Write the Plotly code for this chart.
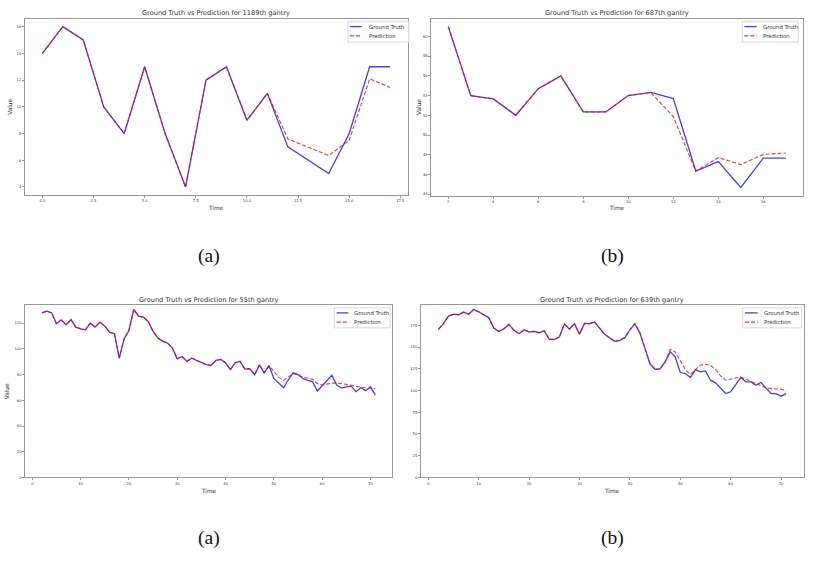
import plotly.graph_objects as go

W, H = 813, 562

# ---------------- data ----------------
tl_title = "Ground Truth vs Prediction for 1189th gantry"
tl_time = list(range(0, 18))
tl_gt = [14, 16, 15, 10, 8, 13, 8, 4, 12, 13, 9, 11, 7, 6, 5, 8, 13, 13]
tl_pred = [14, 16, 15, 10, 8, 13, 8, 4, 12, 13, 9, 11, 7.6, 7.0, 6.35, 7.5, 12.1, 11.45]

tr_title = "Ground Truth vs Prediction for 687th gantry"
tr_time = list(range(2, 18))
tr_gt = [61.0, 54.0, 53.66, 52.0, 54.7, 56.0, 52.34, 52.34, 54.0, 54.32, 53.7, 46.34, 47.3, 44.68, 47.66, 47.66]
tr_pred = [61.0, 54.0, 53.66, 52.0, 54.7, 56.0, 52.34, 52.34, 54.0, 54.32, 51.86, 46.34, 47.7, 47.0, 48.03, 48.17]

bl_title = "Ground Truth vs Prediction for 55th gantry"
bl_time = list(range(2, 72))
bl_gt = [128.0, 129.3, 128.0, 119.5, 122.6, 118.7, 122.8, 116.9, 115.6, 114.8,
         120.0, 116.9, 120.8, 117.7, 113.0, 111.7, 92.8, 107.8, 114.3, 130.6,
         125.4, 124.6, 121.3, 113.5, 108.4, 106.0, 104.5, 100.6, 92.3, 94.1,
         90.3, 92.8, 91.0, 89.2, 87.7, 87.1, 91.0, 91.8, 89.2, 83.8,
         89.2, 90.3, 84.3, 84.6, 79.9, 87.5, 81.4, 86.9, 77.0, 73.5,
         69.8, 76.0, 81.4, 80.0, 77.0, 75.5, 74.5, 67.2, 71.5, 75.5,
         79.6, 71.8, 69.5, 70.5, 71.0, 66.7, 69.8, 67.5, 70.3, 64.1]
bl_pred = [128.0, 129.3, 128.0, 119.5, 122.6, 118.7, 122.8, 116.9, 115.6, 114.8,
           120.0, 116.9, 120.8, 117.7, 113.0, 111.7, 92.8, 107.8, 114.3, 130.6,
           125.4, 124.6, 121.3, 113.5, 108.4, 106.0, 104.5, 100.6, 92.3, 94.1,
           90.3, 92.8, 91.0, 89.2, 87.7, 87.1, 91.0, 91.8, 89.2, 83.8,
           89.2, 90.3, 84.3, 84.6, 79.9, 87.5, 81.4, 86.9, 82.5, 78.0,
           75.5, 78.0, 80.7, 80.0, 78.0, 77.3, 76.3, 73.0, 71.8, 72.6,
           73.4, 73.4, 73.0, 72.4, 71.6, 70.9, 69.8, 69.6, 69.6, 69.0]

br_title = "Ground Truth vs Prediction for 639th gantry"
br_time = list(range(2, 72))
br_gt = [170.4, 177.0, 185.7, 188.0, 187.3, 190.3, 188.0, 193.4, 190.7, 187.7,
         183.8, 172.0, 168.1, 171.2, 176.2, 169.3, 165.5, 170.0, 167.4, 168.1,
         166.6, 168.9, 158.9, 158.9, 161.6, 176.6, 170.8, 177.0, 165.0, 177.3,
         177.0, 178.9, 172.0, 164.7, 160.5, 156.6, 157.8, 160.9, 170.0, 177.0,
         166.2, 148.2, 130.6, 124.5, 124.9, 132.9, 144.5, 138.7, 120.7, 119.5,
         115.0, 124.1, 121.5, 122.6, 111.9, 108.8, 102.3, 96.5, 98.5, 106.9,
         115.0, 110.0, 110.0, 106.1, 109.2, 103.1, 96.5, 96.5, 93.5, 96.5]
br_pred = [170.4, 177.0, 185.7, 188.0, 187.3, 190.3, 188.0, 193.4, 190.7, 187.7,
           183.8, 172.0, 168.1, 171.2, 176.2, 169.3, 165.5, 170.0, 167.4, 168.1,
           166.6, 168.9, 158.9, 158.9, 161.6, 176.6, 170.8, 177.0, 165.0, 177.3,
           177.0, 178.9, 172.0, 164.7, 160.5, 156.6, 157.8, 160.9, 170.0, 177.0,
           166.2, 148.2, 130.6, 124.5, 124.9, 132.9, 147.5, 144.5, 135.0, 124.0,
           118.5, 124.5, 129.5, 130.3, 129.0, 124.0, 117.0, 111.9, 113.5, 114.5,
           115.5, 113.0, 110.0, 107.2, 105.0, 103.0, 102.3, 102.0, 101.5, 99.6]

tl_xticks = [0, 2.5, 5, 7.5, 10, 12.5, 15, 17.5]
tl_xtext = ["0.0", "2.5", "5.0", "7.5", "10.0", "12.5", "15.0", "17.5"]
tl_yticks = [4, 6, 8, 10, 12, 14, 16]
tr_xticks = [2, 4, 6, 8, 10, 12, 14, 16]
tr_yticks = [44, 46, 48, 50, 52, 54, 56, 58, 60]
bl_xticks = [0, 10, 20, 30, 40, 50, 60, 70]
bl_yticks = [0, 20, 40, 60, 80, 100, 120]
br_xticks = [0, 10, 20, 30, 40, 50, 60, 70]
br_yticks = [0, 25, 50, 75, 100, 125, 150, 175]

legend_labels = ["Ground Truth", "Prediction"]
captions = ["(a)", "(b)", "(a)", "(b)"]

# ---------------- helpers ----------------
def fx(p):
    return p / W


def fy(p):
    return 1 - p / H


BLUE = "rgba(0,0,255,0.75)"
RED = "rgba(255,0,0,0.8)"
FRAME = "#9a9a9a"
TXT = "#333333"

fig = go.Figure()

panels = [
    dict(t=tl_time, gt=tl_gt, pr=tl_pred, title=tl_title, box=(25, 407.5, 18.7, 195.7),
         xr=[-0.85, 17.85], yr=[3.4, 16.6], xt=tl_xticks, xtt=tl_xtext, yt=tl_yticks,
         ylab_x=10, time_y=209, title_y=13.3, cap=(209, 257),
         leg=(348, 409, 21.7, 42.3, 350, 361.7, 366.7, 26.7, 36)),
    dict(t=tr_time, gt=tr_gt, pr=tr_pred, title=tr_title, box=(431.4, 802.7, 18.6, 196.2),
         xr=[1.25, 17.75], yr=[43.86, 61.82], xt=tr_xticks, xtt=None, yt=tr_yticks,
         ylab_x=419, time_y=209, title_y=13.3, cap=(612, 257),
         leg=(742.3, 798.3, 21.7, 42.3, 744.3, 756.7, 760.7, 26.7, 36)),
    dict(t=bl_time, gt=bl_gt, pr=bl_pred, title=bl_title, box=(25.3, 392, 305.7, 479.2),
         xr=[-1.45, 74.45], yr=[0, 134.4], xt=bl_xticks, xtt=None, yt=bl_yticks,
         ylab_x=7.3, time_y=492.3, title_y=301, cap=(209, 540),
         leg=(334.3, 390, 309, 329, 336.7, 348.3, 352.3, 314, 323.3)),
    dict(t=br_time, gt=br_gt, pr=br_pred, title=br_title, box=(421, 803.5, 305.7, 479),
         xr=[-1.45, 74.45], yr=[0, 199], xt=br_xticks, xtt=None, yt=br_yticks,
         ylab_x=None, time_y=492.3, title_y=301, cap=(612, 540),
         leg=(742.7, 801.7, 309, 329, 745, 757.7, 761.7, 314, 323.3)),
]

annotations = []
shapes = []
for i, p in enumerate(panels, start=1):
    sx = "" if i == 1 else str(i)
    x0, x1, y0, y1 = p["box"]
    fig.add_trace(go.Scatter(x=p["t"], y=p["gt"], mode="lines", name=legend_labels[0],
                             line=dict(color=BLUE, width=1.3), showlegend=False,
                             xaxis="x" + sx, yaxis="y" + sx))
    fig.add_trace(go.Scatter(x=p["t"], y=p["pr"], mode="lines", name=legend_labels[1],
                             line=dict(color=RED, width=1.1, dash="4px,2px"), showlegend=False,
                             xaxis="x" + sx, yaxis="y" + sx))
    xa = dict(domain=[fx(x0), fx(x1)], range=p["xr"], anchor="y" + sx,
              showgrid=False, zeroline=False, showline=True, mirror=True,
              linecolor=FRAME, linewidth=1, ticks="outside", ticklen=2,
              tickcolor=FRAME, tickwidth=0.8, tickvals=p["xt"],
              tickfont=dict(family="DejaVu Sans", size=3.7, color=TXT))
    if p["xtt"] is not None:
        xa["ticktext"] = p["xtt"]
    ya = dict(domain=[fy(y1), fy(y0)], range=p["yr"], anchor="x" + sx,
              showgrid=False, zeroline=False, showline=True, mirror=True,
              linecolor=FRAME, linewidth=1, ticks="outside", ticklen=2,
              tickcolor=FRAME, tickwidth=0.8, tickvals=p["yt"],
              tickfont=dict(family="DejaVu Sans", size=3.7, color=TXT))
    fig.layout["xaxis" + sx] = xa
    fig.layout["yaxis" + sx] = ya

    cx = (x0 + x1) / 2
    annotations.append(dict(text=p["title"], x=fx(cx), y=fy(p["title_y"]), xref="paper", yref="paper",
                            xanchor="center", yanchor="middle", showarrow=False,
                            font=dict(family="DejaVu Sans", size=6.6, color=TXT)))
    annotations.append(dict(text="Time", x=fx(cx), y=fy(p["time_y"]), xref="paper", yref="paper",
                            xanchor="center", yanchor="middle", showarrow=False,
                            font=dict(family="DejaVu Sans", size=5.8, color=TXT)))
    if p["ylab_x"] is not None:
        annotations.append(dict(text="Value", x=fx(p["ylab_x"]), y=fy((y0 + y1) / 2), xref="paper",
                                yref="paper", xanchor="center", yanchor="middle", showarrow=False,
                                textangle=-90,
                                font=dict(family="DejaVu Sans", size=5.8, color=TXT)))
    annotations.append(dict(text=captions[i - 1], x=fx(p["cap"][0]), y=fy(p["cap"][1]), xref="paper",
                            yref="paper", xanchor="center", yanchor="middle", showarrow=False,
                            font=dict(family="Liberation Serif", size=19.5, color="#111111")))

    # legend box drawn manually
    lx0, lx1, ly0, ly1, sx0, sx1, tx, e1, e2 = p["leg"]
    shapes.append(dict(type="rect", xref="paper", yref="paper", x0=fx(lx0), x1=fx(lx1),
                       y0=fy(ly1), y1=fy(ly0), line=dict(color="#d0d0d0", width=0.8),
                       fillcolor="rgba(255,255,255,0.8)"))
    shapes.append(dict(type="line", xref="paper", yref="paper", x0=fx(sx0), x1=fx(sx1),
                       y0=fy(e1), y1=fy(e1), line=dict(color=BLUE, width=1.3)))
    shapes.append(dict(type="line", xref="paper", yref="paper", x0=fx(sx0), x1=fx(sx1),
                       y0=fy(e2), y1=fy(e2), line=dict(color=RED, width=1.1, dash="4px,2px")))
    for lab, ey in zip(legend_labels, (e1, e2)):
        annotations.append(dict(text=lab, x=fx(tx), y=fy(ey), xref="paper", yref="paper",
                                xanchor="left", yanchor="middle", showarrow=False,
                                font=dict(family="DejaVu Sans", size=5.4, color=TXT)))

fig.update_layout(width=W, height=H, margin=dict(l=0, r=0, t=0, b=0),
                  paper_bgcolor="white", plot_bgcolor="white",
                  annotations=annotations, shapes=shapes, showlegend=False)

fig.write_html("out.html", config={"displayModeBar": False},
               post_script="document.body.style.margin='0';document.body.style.overflow='hidden';")
